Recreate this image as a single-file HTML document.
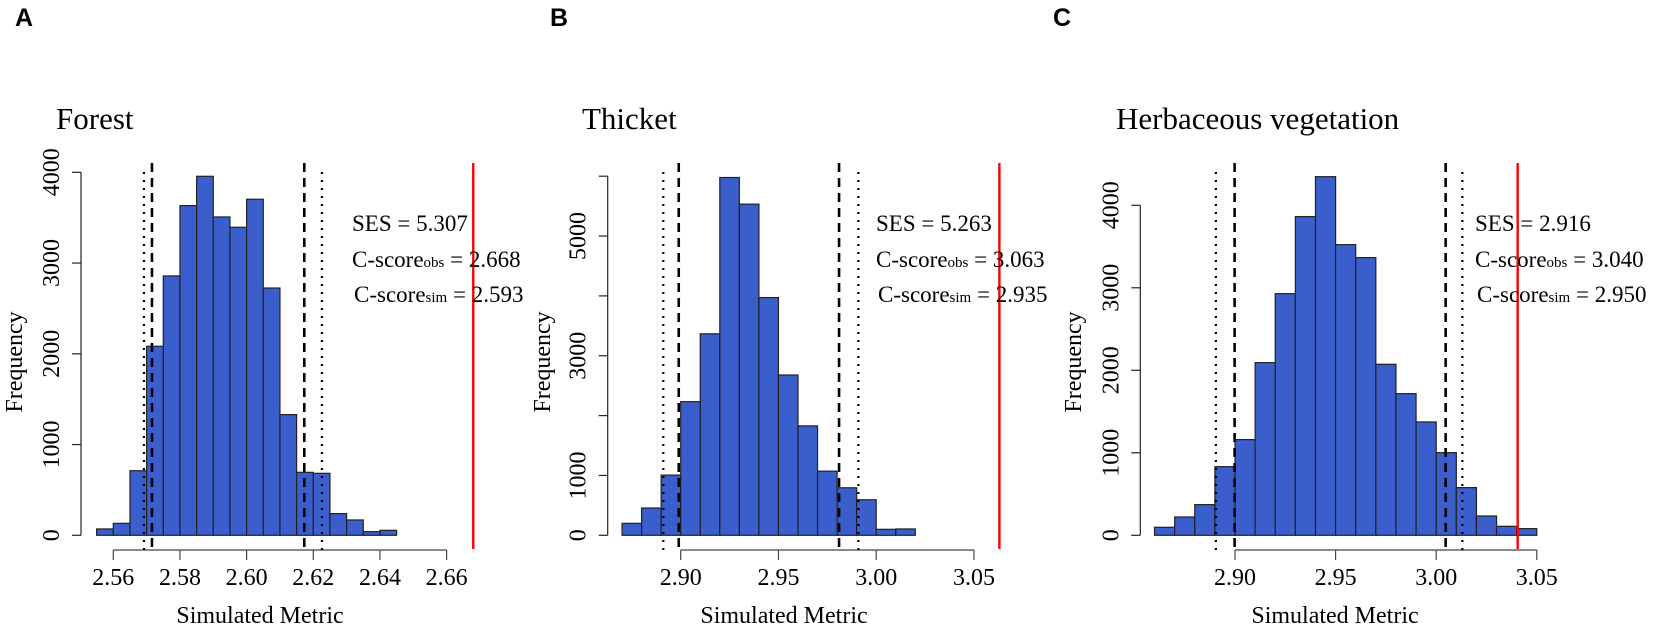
<!DOCTYPE html>
<html><head><meta charset="utf-8"><style>
html,body{margin:0;padding:0;background:#fff;}
svg{display:block;font-family:"Liberation Serif",serif;}
.pl{font-family:"Liberation Sans",sans-serif;font-weight:bold;font-size:25px;}
</style></head><body>
<svg id="c" width="1654" height="627" viewBox="0 0 1654 627" xmlns="http://www.w3.org/2000/svg"></svg>
<script>
// Panel A: Forest
const forestBinStart = 2.555;
const forestBinWidth = 0.005;
const forestCounts = [70,132,712,2083,2858,3633,3956,3508,3394,3703,2725,1330,694,683,239,169,40,55];
const forestXTicks = [2.56,2.58,2.60,2.62,2.64,2.66];
const forestXLabels = ["2.56","2.58","2.60","2.62","2.64","2.66"];
const forestYTicks = [0,1000,2000,3000,4000];
const forestYLabels = ["0","1000","2000","3000","4000"];
const forestDotted = [2.5692,2.6226];
const forestDashed = [2.5716,2.6173];
const forestObs = 2.668;
const forestStats = ["5.307","2.668","2.593"];
// Panel B: Thicket
const thicketBinStart = 2.87;
const thicketBinWidth = 0.01;
const thicketCounts = [200,456,1006,2233,3367,5978,5533,3972,2678,1828,1072,794,594,100,106];
const thicketXTicks = [2.90,2.95,3.00,3.05];
const thicketXLabels = ["2.90","2.95","3.00","3.05"];
const thicketYTicks = [0,1000,2000,3000,4000,5000,6000];
const thicketYLabels = ["0","1000","","3000","","5000",""];
const thicketDotted = [2.8911,2.9909];
const thicketDashed = [2.899,2.981];
const thicketObs = 3.063;
const thicketStats = ["5.263","3.063","2.935"];
// Panel C: Herbaceous vegetation
const herbBinStart = 2.86;
const herbBinWidth = 0.01;
const herbCounts = [97,222,372,832,1160,2093,2929,3863,4347,3523,3366,2073,1717,1374,1002,578,234,109,81];
const herbXTicks = [2.90,2.95,3.00,3.05];
const herbXLabels = ["2.90","2.95","3.00","3.05"];
const herbYTicks = [0,1000,2000,3000,4000];
const herbYLabels = ["0","1000","2000","3000","4000"];
const herbDotted = [2.8905,3.013];
const herbDashed = [2.8998,3.0047];
const herbObs = 3.0405;
const herbStats = ["2.916","3.040","2.950"];

const NS="http://www.w3.org/2000/svg";
const svg=document.getElementById('c');
function mk(tag,attrs,parent,text){const e=document.createElementNS(NS,tag);for(const k in attrs)e.setAttribute(k,attrs[k]);if(text!==undefined)e.textContent=text;(parent||svg).appendChild(e);return e;}

const panels=[
 {key:'forest',letter:'A',lx:15,title:'Forest',tx:56,axisX:81,x0:2.56,px0:113.3,ppu:3333,y0:535.3,ppk:90.75,
  binStart:forestBinStart,binW:forestBinWidth,counts:forestCounts,xt:forestXTicks,xl:forestXLabels,yt:forestYTicks,yl:forestYLabels,
  dot:forestDotted,dash:forestDashed,obs:forestObs,stats:forestStats,statX:352,freqX:13,xlabX:260},
 {key:'thicket',letter:'B',lx:550,title:'Thicket',tx:582,axisX:607.7,x0:2.90,px0:680.7,ppu:1955,y0:535.3,ppk:59.85,
  binStart:thicketBinStart,binW:thicketBinWidth,counts:thicketCounts,xt:thicketXTicks,xl:thicketXLabels,yt:thicketYTicks,yl:thicketYLabels,
  dot:thicketDotted,dash:thicketDashed,obs:thicketObs,stats:thicketStats,statX:876,freqX:541,xlabX:784},
 {key:'herb',letter:'C',lx:1053,title:'Herbaceous vegetation',tx:1116,axisX:1140.3,x0:2.90,px0:1235,ppu:2012,y0:535.3,ppk:82.5,
  binStart:herbBinStart,binW:herbBinWidth,counts:herbCounts,xt:herbXTicks,xl:herbXLabels,yt:herbYTicks,yl:herbYLabels,
  dot:herbDotted,dash:herbDashed,obs:herbObs,stats:herbStats,statX:1475,freqX:1072,xlabX:1335}
];

panels.forEach(p=>{
  const sx=v=>p.px0+(v-p.x0)*p.ppu;
  const sy=v=>p.y0-v/1000*p.ppk;
  const g=mk('g',{});
  
  
  const L=mk('text',{x:p.lx,y:26,class:'pl'},g,p.letter);
  
  
  const T=mk('text',{x:p.tx,y:129,'font-size':31},g,p.title);
  
  
  p.counts.forEach((c,i)=>{
    const a=sx(p.binStart+i*p.binW), b=sx(p.binStart+(i+1)*p.binW);
    const r=mk('rect',{x:a,y:sy(c),width:b-a,height:p.y0-sy(c),fill:'#3A5FCD',stroke:'#222','stroke-width':1.2},g);
    
    
  });
  const yMax=p.yt[p.yt.length-1];
  const ya=mk('line',{x1:p.axisX,x2:p.axisX,y1:sy(0),y2:sy(yMax),stroke:'#222','stroke-width':1.2},g);
  
  
  p.yt.forEach((v,i)=>{
    mk('line',{x1:p.axisX-9,x2:p.axisX,y1:sy(v),y2:sy(v),stroke:'#222','stroke-width':1.2},g);
    if(p.yl[i]){
      const t=mk('text',{x:0,y:0,'font-size':24,'text-anchor':'middle',transform:`translate(${p.axisX-22},${sy(v)}) rotate(-90)`},g,p.yl[i]);
      
      
    }
  });
  const fq=mk('text',{x:0,y:0,'font-size':24,'text-anchor':'middle',transform:`translate(${p.freqX+9},362) rotate(-90)`},g,'Frequency');
  
  
  const xa=mk('line',{x1:sx(p.xt[0]),x2:sx(p.xt[p.xt.length-1]),y1:550,y2:550,stroke:'#444','stroke-width':1.2},g);
  
  
  p.xt.forEach((v,i)=>{
    mk('line',{x1:sx(v),x2:sx(v),y1:550,y2:560,stroke:'#444','stroke-width':1.2},g);
    const t=mk('text',{x:sx(v),y:585,'font-size':24,'text-anchor':'middle'},g,p.xl[i]);
    
    
  });
  const xt=mk('text',{x:p.xlabX,y:623,'font-size':24,'text-anchor':'middle'},g,'Simulated Metric');
  
  
  p.dot.forEach(v=>{
    const l=mk('line',{x1:sx(v),x2:sx(v),y1:172,y2:550,stroke:'#000','stroke-width':2.2,'stroke-dasharray':'2,6'},g);
    
    
  });
  p.dash.forEach(v=>{
    const l=mk('line',{x1:sx(v),x2:sx(v),y1:163,y2:550,stroke:'#000','stroke-width':2.6,'stroke-dasharray':'9,6'},g);
    
    
  });
  const rl=mk('line',{x1:sx(p.obs),x2:sx(p.obs),y1:163,y2:549,stroke:'#ff0000','stroke-width':2.4},g);
  
  
  const s1=mk('text',{x:p.statX,y:231,'font-size':23},g,'SES = '+p.stats[0]);
  
  
  const s2=mk('text',{x:p.statX,y:267,'font-size':23},g);
  
  
  mk('tspan',{},s2,'C-score');
  mk('tspan',{'font-size':15},s2,'obs');
  mk('tspan',{},s2,' = '+p.stats[1]);
  const s3=mk('text',{x:p.statX+2,y:302,'font-size':23},g);
  
  
  mk('tspan',{},s3,'C-score');
  mk('tspan',{'font-size':15},s3,'sim');
  mk('tspan',{},s3,' = '+p.stats[2]);
});
</script>
</body></html>
